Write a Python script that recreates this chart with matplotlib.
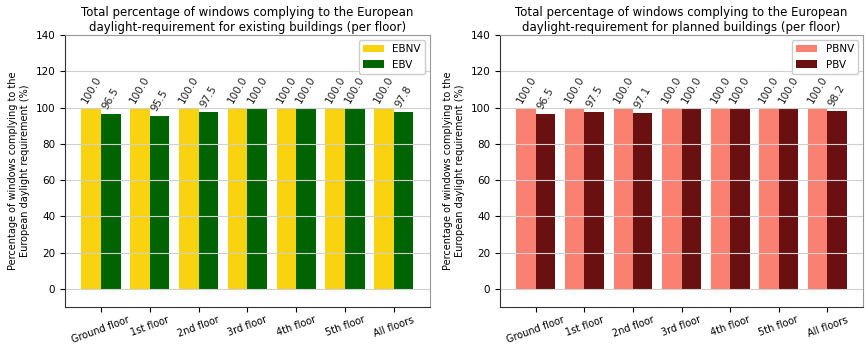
import numpy as np
import matplotlib
matplotlib.use('Agg')
import matplotlib.pyplot as plt

floors = ['Ground floor', '1st floor', '2nd floor', '3rd floor', '4th floor', '5th floor', 'All floors']

# existing buildings
ebnv = [100.0, 100.0, 100.0, 100.0, 100.0, 100.0, 100.0]
ebv = [96.5, 95.5, 97.5, 100.0, 100.0, 100.0, 97.8]

# planned buildings
pbnv = [100.0, 100.0, 100.0, 100.0, 100.0, 100.0, 100.0]
pbv = [96.5, 97.5, 97.1, 100.0, 100.0, 100.0, 98.2]

ylab = 'Percentage of windows complying to the\nEuropean daylight requirement (%)'


def floor_plot(ax, nv, v, names, colors, title):
    x = np.arange(len(floors))
    w = 0.4
    b1 = ax.bar(x - w/2, nv, w, color=colors[0], label=names[0])
    b2 = ax.bar(x + w/2, v, w, color=colors[1], label=names[1])
    for bars in (b1, b2):
        for b in bars:
            ax.text(b.get_x() + b.get_width()/2, b.get_height() + 1.5, '%.1f' % b.get_height(),
                    ha='center', va='bottom', rotation=60, fontsize=7.5, color='#222222')
    ax.set_ylim(-10, 140)
    ax.set_yticks(np.arange(0, 141, 20))
    ax.set_xticks(x)
    ax.set_xticklabels(floors, rotation=20, fontsize=7)
    ax.tick_params(axis='x', pad=2)
    ax.tick_params(axis='y', labelsize=7.5)
    ax.grid(axis='y', color='#d0d0d0', linewidth=0.8)
    ax.set_ylabel(ylab, fontsize=7)
    ax.set_title(title, fontsize=8.5, pad=3)
    ax.legend(loc='upper right', fontsize=7.5, framealpha=1, edgecolor='#cccccc')
    for s in ['top', 'right']:
        ax.spines[s].set_color('#999999')
    for s in ['left', 'bottom']:
        ax.spines[s].set_color('#333333')


fig = plt.figure(figsize=(8.65, 3.47), dpi=100)
ax1 = fig.add_axes([0.075, 0.115, 0.422, 0.784])
ax2 = fig.add_axes([0.578, 0.115, 0.42, 0.784])

floor_plot(ax1, ebnv, ebv, ['EBNV', 'EBV'], ['#f9d30f', '#006400'],
           'Total percentage of windows complying to the European\ndaylight-requirement for existing buildings (per floor)')
floor_plot(ax2, pbnv, pbv, ['PBNV', 'PBV'], ['#fa8072', '#6a1010'],
           'Total percentage of windows complying to the European\ndaylight-requirement for planned buildings (per floor)')

plt.savefig('out.png', dpi=100)
plt.close()
